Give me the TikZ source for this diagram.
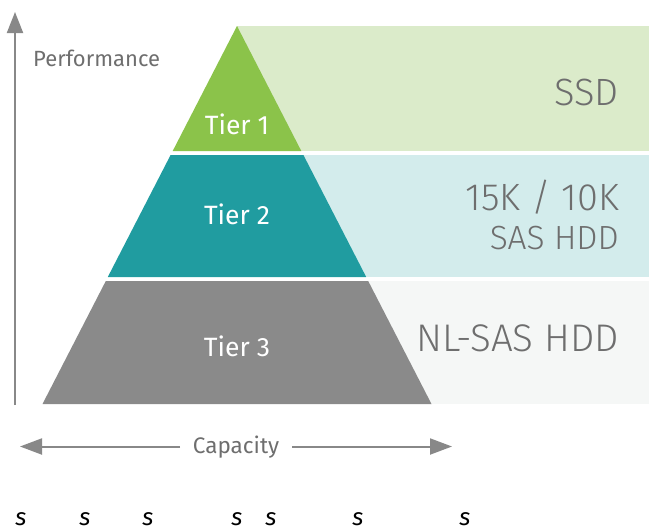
\documentclass[tikz,border=0pt]{standalone}
\usepackage{fontspec}
\setmainfont{Fira Sans}
\newfontfamily\lightfont{Fira Sans Light}
\usetikzlibrary{arrows.meta}
\definecolor{tgreen}{HTML}{8BC34A}
\definecolor{tteal}{HTML}{209CA0}
\definecolor{tgray}{HTML}{8A8A8A}
\definecolor{bgreen}{HTML}{DBEBCA}
\definecolor{bteal}{HTML}{D3ECEC}
\definecolor{bgray}{HTML}{F5F7F6}
\definecolor{labgray}{HTML}{6E6E6E}
\definecolor{axgray}{HTML}{888888}
\tikzset{
  bandtext/.style={anchor=base east, text=labgray, inner sep=0pt},
  tiertext/.style={anchor=base, text=white, inner sep=0pt, font=\fontsize{26.5}{30}\selectfont},
  axtext/.style={anchor=base, text=labgray, inner sep=0pt, font=\fontsize{22.5}{26}\selectfont},
  axline/.style={draw=axgray, line width=2pt},
  stext/.style={anchor=base, inner sep=0pt, text depth=0pt, font=\fontsize{24}{26}\selectfont\itshape},
}
\begin{document}
\begin{tikzpicture}[x=1pt,y=-1pt]
\useasboundingbox (0,0) rectangle (649,531);
% bands
\fill[bgreen] (237,26) rectangle (649,151);
\fill[bteal] (237,155) rectangle (649,277);
\fill[bgray] (237,281) rectangle (649,404);
% tiers
\fill[tgreen] (237,26) -- (301.3,151) -- (172.7,151) -- cycle;
\fill[tteal] (170.6,155) -- (303.4,155) -- (366.2,277) -- (107.8,277) -- cycle;
\fill[tgray] (105.8,281) -- (368.2,281) -- (431.5,404) -- (42.5,404) -- cycle;
% tier labels
\node[tiertext] (t1) at (237,134) {Tier 1};
\node[tiertext] (t2) at (237,224) {Tier 2};
\node[tiertext] (t3) at (237,356) {Tier 3};
% band labels
\node[bandtext, font=\lightfont\fontsize{38}{42}\selectfont] (ssd) at (619,105) {SSD};
\node[bandtext, font=\lightfont\fontsize{38}{42}\selectfont] (sas1) at (619,210) {15K / 10K};
\node[bandtext, font=\lightfont\fontsize{33.5}{38}\selectfont] (sas2) at (619,249) {SAS HDD};
\node[bandtext, font=\lightfont\fontsize{38.5}{42}\selectfont] (nl) at (619,351) {NL-SAS HDD};
% axes
\coordinate (vb) at (15,405);
\coordinate (vt) at (15,12);
\draw[axline, -{Triangle[length=21pt,width=16pt]}] (vb) -- (vt);
\node[axtext, anchor=base west, font=\fontsize{22}{26}\selectfont] (perf) at (33,66) {Performance};
\node[axtext] (cap) at (236,453) {Capacity};
\coordinate (hl) at (20,446.5);
\coordinate (hr) at (452,446.5);
\coordinate (hl2) at (180,446.5);
\coordinate (hr2) at (292,446.5);
\draw[axline, -{Triangle[length=22pt,width=16pt]}] (hl2) -- (hl);
\draw[axline, -{Triangle[length=22pt,width=16pt]}] (hr2) -- (hr);
% bottom letters
\foreach \xx [count=\i] in {21,85,148,237,271,358,465}
  \node[stext] (s\i) at (\xx,525) {s};
\end{tikzpicture}
\end{document}
